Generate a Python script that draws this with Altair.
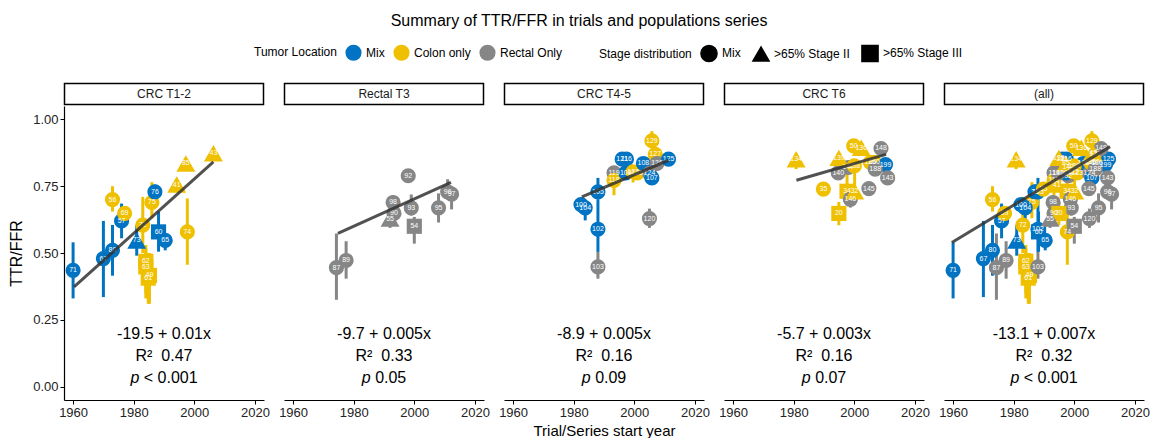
import altair as alt
import pandas as pd

# ---------------- data ----------------
panel = (["CRC T1-2"] * 20 + ["Rectal T3"] * 11 + ["CRC T4-5"] * 20 + ["CRC T6"] * 19)

label = ["71", "67", "80", "57", "56", "69", "73", "72", "62", "63", "49", "61", "75", "76", "60", "65", "74", "41", "85", "43",
         "87", "89", "98", "90", "55", "92", "93", "54", "95", "96", "97",
         "100", "104", "105", "102", "103", "119", "118", "121", "116", "109", "122", "123", "108", "129", "127", "126", "124", "107", "125", "120",
         "134", "139", "50", "136", "148", "147", "138", "140", "186", "150", "199", "188", "143", "145", "35", "34", "32", "146", "20"]

year = [1960, 1970, 1973, 1976, 1973, 1977, 1981, 1983, 1984, 1984, 1985.2, 1984.8, 1986, 1987, 1988.2, 1990.4, 1997.7, 1994.2, 1997.2, 2006.3,
        1974.3, 1977.5, 1993, 1993.3, 1992, 1998, 1999, 2000, 2008, 2011, 2012.3,
        1982.4, 1983.8, 1988, 1988, 1988, 1993.3, 1993.3, 1996, 1997.4, 1997.2, 1999.6, 2001, 2003, 2005.8, 2006.9, 2007.5, 2005, 2005.8, 2011.3, 2005,
        1980.8, 1994.9, 1999.8, 2002.3, 2008.8, 1998, 2000, 1994.7, 2005.3, 2006.5, 2010.3, 2006.9, 2011, 2004.8, 1989.8, 1997.6, 2000.1, 1998.7, 1994.9]

ttr = [0.435, 0.479, 0.51, 0.62, 0.70, 0.648, 0.547, 0.604, 0.469, 0.448, 0.416, 0.406, 0.689, 0.729, 0.579, 0.547, 0.579, 0.756, 0.835, 0.873,
       0.445, 0.472, 0.689, 0.648, 0.629, 0.789, 0.669, 0.60, 0.669, 0.729, 0.72,
       0.681, 0.669, 0.729, 0.589, 0.448, 0.80, 0.772, 0.851, 0.851, 0.80, 0.804, 0.80, 0.835, 0.92, 0.869, 0.835, 0.798, 0.781, 0.851, 0.629,
       0.851, 0.856, 0.901, 0.894, 0.891, 0.82, 0.826, 0.80, 0.839, 0.839, 0.831, 0.814, 0.781, 0.741, 0.739, 0.731, 0.731, 0.701, 0.648]

ci_low = [0.33, 0.335, 0.415, 0.555, 0.655, 0.62, 0.49, 0.50, 0.35, 0.33, 0.31, 0.31, 0.63, 0.71, 0.505, 0.51, 0.456, 0.74, 0.82, 0.86,
          0.325, 0.404, 0.66, 0.62, 0.594, 0.789, 0.64, 0.535, 0.614, 0.70, 0.663,
          0.65, 0.622, 0.70, 0.504, 0.404, 0.78, 0.716, 0.835, 0.835, 0.78, 0.764, 0.78, 0.81, 0.90, 0.85, 0.81, 0.78, 0.76, 0.835, 0.594,
          0.814, 0.84, 0.89, 0.88, 0.87, 0.80, 0.80, 0.78, 0.82, 0.82, 0.81, 0.79, 0.76, 0.72, 0.739, 0.70, 0.70, 0.67, 0.604]

ci_high = [0.54, 0.62, 0.605, 0.685, 0.75, 0.67, 0.605, 0.71, 0.53, 0.52, 0.50, 0.50, 0.765, 0.756, 0.655, 0.566, 0.704, 0.77, 0.85, 0.885,
           0.573, 0.544, 0.716, 0.68, 0.66, 0.789, 0.719, 0.635, 0.723, 0.776, 0.75,
           0.70, 0.69, 0.781, 0.70, 0.504, 0.82, 0.80, 0.865, 0.865, 0.82, 0.83, 0.82, 0.85, 0.956, 0.89, 0.85, 0.82, 0.80, 0.87, 0.666,
           0.87, 0.87, 0.91, 0.91, 0.91, 0.84, 0.85, 0.82, 0.86, 0.86, 0.85, 0.83, 0.80, 0.76, 0.739, 0.80, 0.80, 0.73, 0.691]

M, C, R = "Mix", "Colon only", "Rectal Only"
location = [M, M, M, M, C, C, M, C, C, C, C, C, C, M, M, M, C, C, C, C,
            R, R, R, R, R, R, R, R, R, R, R,
            M, M, M, M, R, R, C, M, M, M, C, C, M, C, C, R, R, M, M, R,
            C, C, C, C, R, R, C, R, C, C, M, R, R, R, C, C, C, R, C]

S0, S2, S3 = "Mix", ">65% Stage II", ">65% Stage III"
stage = [S0, S0, S0, S0, S0, S0, S2, S0, S3, S3, S3, S3, S0, S0, S3, S0, S0, S2, S2, S2,
         S0, S0, S0, S0, S2, S0, S0, S3, S0, S0, S0,
         S0, S0, S0, S0, S0, S0, S0, S0, S0, S0, S0, S0, S0, S0, S0, S0, S0, S0, S0, S0,
         S2, S2, S0, S2, S0, S0, S0, S0, S0, S0, S0, S0, S0, S0, S0, S3, S2, S0, S3]

panels = ["CRC T1-2", "Rectal T3", "CRC T4-5", "CRC T6", "(all)"]
fit_x0 = [1960.3, 1974.8, 1982.7, 1980.9, 1959.6]
fit_y0 = [0.373, 0.573, 0.710, 0.772, 0.539]
fit_x1 = [2006.3, 2012.1, 2011.3, 2010.5, 2011.8]
fit_y1 = [0.841, 0.764, 0.847, 0.869, 0.898]

eq_text = ["-19.5 + 0.01x", "-9.7 + 0.005x", "-8.9 + 0.005x", "-5.7 + 0.003x", "-13.1 + 0.007x"]
r2_text = ["0.47", "0.33", "0.16", "0.16", "0.32"]
p_text = ["< 0.001", "0.05", "0.09", "0.07", "< 0.001"]

loc_domain = [M, C, R]
loc_colors = ["#0073C2", "#EFC000", "#868686"]
stage_domain = [S0, S2, S3]
stage_shapes = ["circle", "triangle-up", "square"]

# ---------------- build tables ----------------
df = pd.DataFrame(dict(panel=panel, label=label, year=year, ttr=ttr, lo=ci_low, hi=ci_high,
                       location=location, stage=stage))
df_all = pd.concat([df, df.assign(panel="(all)")], ignore_index=True)

FONT = "Liberation Sans"
W, H = 200, 294
PX_PER_YEAR = W / 66.0
XC = 1990.0
GAP = 4.5


def text_width(s, size=16):
    w = {"<": 0.584, " ": 0.278, ".": 0.278}
    return sum(w.get(ch, 0.556) for ch in s) * size


xs = alt.Scale(domain=[1957, 2023], nice=False, zero=False)
ys = alt.Scale(domain=[-0.05, 1.05], nice=False, zero=False)
color = alt.Color("location:N", scale=alt.Scale(domain=loc_domain, range=loc_colors),
                  legend=alt.Legend(title="Tumor Location", orient="none", direction="horizontal",
                                    titleOrient="left", legendX=190, legendY=-62, symbolType="circle",
                                    symbolSize=260, symbolStrokeWidth=0, columnPadding=8,
                                    labelFontSize=12, titleFontSize=12, titleFontWeight="normal",
                                    labelFont=FONT, titleFont=FONT, titlePadding=8, labelColor="black",
                                    titleColor="black"))
shape = alt.Shape("stage:N", scale=alt.Scale(domain=stage_domain, range=stage_shapes),
                  legend=alt.Legend(title="Stage distribution", orient="none", direction="horizontal",
                                    titleOrient="left", legendX=535, legendY=-62, symbolSize=260,
                                    symbolFillColor="black", symbolStrokeColor="black", columnPadding=8,
                                    labelFontSize=12, titleFontSize=12, titleFontWeight="normal",
                                    labelFont=FONT, titleFont=FONT, titlePadding=8, labelColor="black",
                                    titleColor="black"))


def panel_chart(i, name):
    d = df_all[df_all.panel == name]
    first = i == 0
    middle = i == 2
    xaxis = alt.Axis(values=[1960, 1980, 2000, 2020], format="d",
                     title="Trial/Series start year" if middle else None)
    yaxis = alt.Axis(values=[0, 0.25, 0.5, 0.75, 1.0], format=".2f", title="TTR/FFR") if first else None

    def X(f):
        return alt.X(f, scale=xs, axis=xaxis)

    def Y(f):
        return alt.Y(f, scale=ys, axis=yaxis)

    base = alt.Chart(d)
    bars = base.mark_rule(strokeWidth=3).encode(x=X("year:Q"), y=Y("lo:Q"), y2="hi:Q", color=color)
    pts = base.transform_filter(alt.datum.stage != S2).mark_point(
        filled=True, opacity=1, size=230).encode(x=X("year:Q"), y=Y("ttr:Q"), color=color, shape=shape)
    tri = base.transform_filter(alt.datum.stage == S2).mark_point(
        filled=True, opacity=1, size=360).encode(x=X("year:Q"), y=Y("ttr:Q"), color=color, shape=shape)
    lbl = base.mark_text(fontSize=7, color="white", font=FONT).encode(
        x=X("year:Q"), y=Y("ttr:Q"), text="label:N")

    fit = pd.DataFrame({"year": [fit_x0[i], fit_x1[i]], "ttr": [fit_y0[i], fit_y1[i]]})
    line = alt.Chart(fit).mark_line(color="#333333", strokeWidth=3, opacity=0.85).encode(
        x=X("year:Q"), y=Y("ttr:Q"))

    pv = p_text[i]
    wp = text_width("p")
    wr = text_width(pv) + GAP
    split_year = XC + (wp - (wp + wr) / 2) / PX_PER_YEAR
    ann = pd.DataFrame({"year": [XC, XC, split_year, split_year],
                        "ttr": [0.198, 0.116, 0.034, 0.034],
                        "txt": [eq_text[i], "R\u00b2\u00a0\u00a0" + r2_text[i], "p", pv],
                        "kind": ["n", "n", "p", "r"]})
    t_center = alt.Chart(ann).transform_filter("datum.kind == 'n'").mark_text(
        fontSize=16, font=FONT, color="black").encode(x=X("year:Q"), y=Y("ttr:Q"), text="txt:N")
    t_p = alt.Chart(ann).transform_filter("datum.kind == 'p'").mark_text(
        fontSize=16, font=FONT, color="black", fontStyle="italic", align="right").encode(
        x=X("year:Q"), y=Y("ttr:Q"), text="txt:N")
    t_r = alt.Chart(ann).transform_filter("datum.kind == 'r'").mark_text(
        fontSize=16, font=FONT, color="black", align="left", dx=GAP).encode(
        x=X("year:Q"), y=Y("ttr:Q"), text="txt:N")

    strip_df = pd.DataFrame({"name": [name]})
    strip_box = alt.Chart(strip_df).mark_rect(fill="white", stroke="black", strokeWidth=1.5).encode(
        x=alt.value(0.5), x2=alt.value(W - 0.5), y=alt.value(-22.5), y2=alt.value(-1.5))
    strip_txt = alt.Chart(strip_df).mark_text(fontSize=12, font=FONT, color="#1a1a1a").encode(
        x=alt.value(W / 2), y=alt.value(-12), text="name:N")

    return alt.layer(bars, pts, tri, lbl, line, t_center, t_p, t_r, strip_box, strip_txt).properties(
        width=W, height=H)


chart = alt.hconcat(*[panel_chart(i, n) for i, n in enumerate(panels)], spacing=20,
                    bounds="flush").resolve_scale(color="shared", shape="shared").properties(
    title=alt.TitleParams("Summary of TTR/FFR in trials and populations series", fontSize=16,
                          fontWeight="normal", font=FONT, anchor="middle", offset=5, dy=-10,
                          color="black"),
    padding={"left": 0, "right": 0, "top": 5, "bottom": 0},
).configure_view(stroke=None).configure_axis(
    grid=False, domainColor="black", domainWidth=1.2, tickColor="black", tickSize=4,
    labelFont=FONT, labelFontSize=13, labelColor="#222222", titleFont=FONT, titleFontSize=15,
    titleFontWeight="normal", titleColor="black", labelPadding=2,
).configure_axisY(titlePadding=8, titleFontSize=16)

chart.save("out.html", embed_options={"renderer": "svg", "actions": False})
